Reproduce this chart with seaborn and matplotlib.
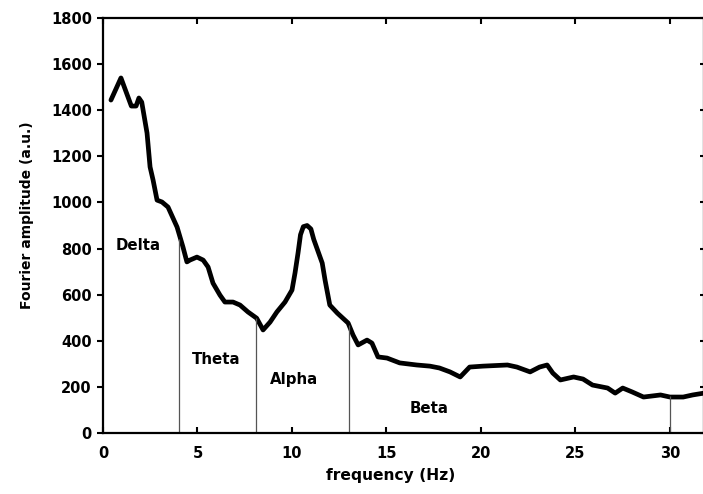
import matplotlib
matplotlib.use("Agg")
import matplotlib.pyplot as plt
import seaborn as sns
import pandas as pd

freq = [0.42, 0.95, 1.5, 1.75, 1.9, 2.05, 2.33, 2.49, 2.65, 2.86, 3.12, 3.44, 3.92,
        4.23, 4.44, 4.6, 4.97, 5.3, 5.56, 5.82, 6.19, 6.45, 6.88, 7.25, 7.67, 8.13,
        8.47, 8.84, 9.2, 9.63, 10.0, 10.16, 10.32, 10.45, 10.6, 10.8, 11.0, 11.15,
        11.6, 11.75, 12.0, 12.4, 12.97, 13.23, 13.5, 13.97, 14.23, 14.55, 15.03, 15.7,
        16.6, 17.3, 17.8, 18.36, 18.9, 19.4, 20.1, 21.4, 21.9, 22.6, 23.1, 23.5, 23.8,
        24.2, 24.9, 25.4, 25.9, 26.7, 27.1, 27.5, 28.0, 28.6, 29.5, 30.0, 30.7, 31.2,
        31.8]
amplitude = [1444, 1540, 1418, 1418, 1453, 1435, 1301, 1154, 1097, 1010, 1002, 980, 893,
             807, 742, 750, 763, 750, 720, 650, 598, 568, 568, 555, 525, 498,
             447, 481, 525, 568, 620, 694, 781, 860, 895, 900, 885, 840,
             737, 663, 555, 520, 477, 425, 382, 403, 390, 330, 325, 304,
             295, 290, 282, 265, 243, 286, 290, 295, 286, 265, 286, 295, 260,
             230, 243, 234, 208, 195, 173, 195, 178, 156, 165, 156, 156, 165,
             173]

band_edges = [4.0, 8.1, 13.0, 30.0]
band_tops = [840, 500, 470, 160]
band_names = ["Delta", "Theta", "Alpha", "Beta"]
label_x = [1.85, 6.0, 10.1, 17.25]
label_y = [815, 317, 230, 108]

sns.set_style("ticks")
plt.rcParams['font.family'] = ['DejaVu Sans']
plt.rcParams.update({"text.color": "black", "axes.labelcolor": "black",
                     "xtick.color": "black", "ytick.color": "black",
                     "axes.edgecolor": "black"})

fig = plt.figure(figsize=(7.03, 4.94), dpi=100)
ax = fig.add_axes([103/703, 1-433/494, (704-103)/703, (433-18)/494])

df = pd.DataFrame({"freq": freq, "amp": amplitude})
sns.lineplot(data=df, x="freq", y="amp", sort=False, color="black", linewidth=3.4, ax=ax)

ax.vlines(band_edges, 0, band_tops, color="#555555", linewidth=0.9)
for n, lx, ly in zip(band_names, label_x, label_y):
    ax.text(lx, ly, n, ha="center", va="center", fontsize=10.8, fontweight="bold")

ax.set_xlim(0, 31.8)
ax.set_ylim(0, 1800)
ax.set_xticks([0, 5, 10, 15, 20, 25, 30])
ax.set_yticks(range(0, 1801, 200))
ax.set_xlabel("frequency (Hz)", fontsize=11.2, fontweight="bold")
ax.set_ylabel("Fourier amplitude (a.u.)", fontsize=10, fontweight="bold")
ax.xaxis.set_label_coords((391-103)/601, -(468-433)/415)
ax.yaxis.set_label_coords(-(103-34)/601, (433-215)/415)

for s in ax.spines.values():
    s.set_linewidth(1.6)
    s.set_visible(True)
ax.tick_params(axis="x", direction="in", top=True, length=4, width=1.5,
               labelsize=10.5, pad=9)
ax.tick_params(axis="y", direction="out", length=4, width=1.5, labelsize=10.5, pad=4)
ax.tick_params(axis="y", which="both", right=True)
for t in ax.get_xticklabels() + ax.get_yticklabels():
    t.set_fontweight("bold")
for tick in ax.yaxis.get_major_ticks():
    tick.tick2line.set_marker(matplotlib.lines.TICKLEFT)
    tick.tick2line.set_markersize(3)
    tick.tick2line.set_color("#888888")

fig.savefig("out.png", dpi=100)
